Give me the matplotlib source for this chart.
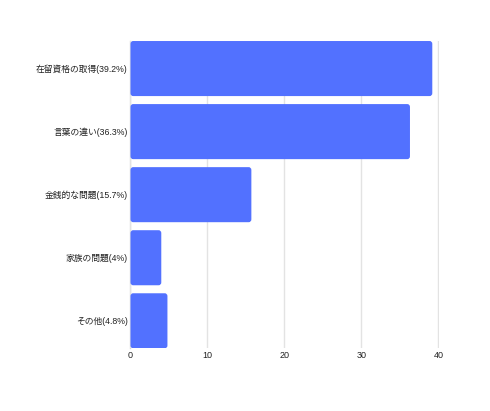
import matplotlib
matplotlib.use("Agg")
import matplotlib.pyplot as plt
from matplotlib.patches import FancyBboxPatch

plt.rcParams['font.family'] = ['Liberation Sans', 'Noto Sans CJK JP', 'DejaVu Sans']

# data
labels = ['在留資格の取得(39.2%)', '言葉の違い(36.3%)', '金銭的な問題(15.7%)',
          '家族の問題(4%)', 'その他(4.8%)']
values = [39.2, 36.3, 15.7, 4, 4.8]
xticks = [0, 10, 20, 30, 40]

bar_color = '#5271ff'
grid_color = '#e3e3e3'
bar_h = 0.873

fig = plt.figure(figsize=(4.9, 4.11), dpi=100)
ax = fig.add_axes([0.2663, 0.1525, 0.6296, 0.7477])

ypos = list(range(len(values)))
bars = ax.barh(ypos, values, height=bar_h, color=bar_color)

# swap plain rectangles for boxes with slightly rounded corners
for rect in bars:
    rect.set_visible(False)
    box = FancyBboxPatch((rect.get_x(), rect.get_y()), rect.get_width(), rect.get_height(),
                         boxstyle='round,pad=0,rounding_size=0.35',
                         mutation_aspect=0.13, facecolor=bar_color,
                         edgecolor='none', zorder=3)
    ax.add_patch(box)

ax.set_xlim(0, 40.07)
ax.set_ylim(len(values) - 1 + bar_h / 2, -bar_h / 2)
ax.set_yticks(ypos)
ax.set_yticklabels(labels, fontsize=6.3, color='#222222')
ax.set_xticks(xticks)
ax.set_xticklabels([str(t) for t in xticks], fontsize=6.5, color='#222222')
ax.tick_params(axis='both', length=0, pad=2)

ax.grid(axis='x', color=grid_color, linewidth=1, zorder=0)
ax.set_axisbelow(True)
for side in ['top', 'right', 'bottom']:
    ax.spines[side].set_visible(False)
ax.spines['left'].set_color('#d8d8d8')
ax.spines['left'].set_linewidth(1)
ax.spines['left'].set_zorder(0)

fig.savefig('out.png', dpi=100, facecolor='white')
